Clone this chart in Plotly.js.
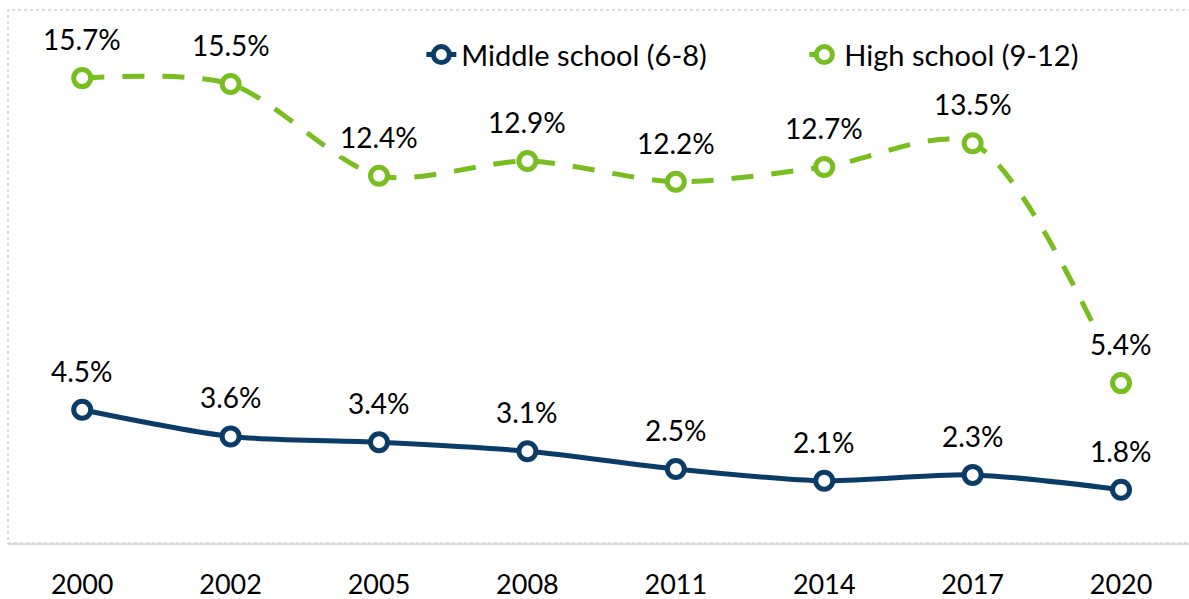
<!DOCTYPE html>
<html>
<head>
<meta charset="utf-8">
<script src="https://cdn.plot.ly/plotly-3.0.1.min.js"></script>
<style>
  body { margin: 0; background: #fff; }
  #chart { width: 1189px; height: 599px; }
</style>
</head>
<body>
<div id="chart"></div>
<script>
// survey years and rates (%)
var years = ["2000", "2002", "2005", "2008", "2011", "2014", "2017", "2020"];
var middleSchool = [4.5, 3.6, 3.4, 3.1, 2.5, 2.1, 2.3, 1.8];
var highSchool = [15.7, 15.5, 12.4, 12.9, 12.2, 12.7, 13.5, 5.4];

var navy = "#0b3c68";
var green = "#78be21";
var fontFam = "Lato, 'Open Sans', sans-serif";

var trace1 = {
  x: years,
  y: middleSchool,
  name: "Middle school (6-8)",
  type: "scatter",
  mode: "lines+markers",
  line: {color: navy, width: 5, shape: "spline", smoothing: 0.8},
  marker: {symbol: "circle", size: 17, color: "#fff", line: {color: navy, width: 5}}
};

var trace2 = {
  x: years,
  y: highSchool,
  name: "High school (9-12)",
  type: "scatter",
  mode: "lines+markers",
  line: {color: green, width: 5, shape: "spline", smoothing: 0.8, dash: "22px,18px"},
  marker: {symbol: "circle", size: 17, color: "#fff", line: {color: green, width: 5}}
};

// value labels above each point (x as category index), white box like the original
var labels = [];
function addLabels(vals) {
  vals.forEach(function (v, i) {
    labels.push({
      x: i, y: v, xref: "x", yref: "y",
      text: v.toFixed(1) + "%",
      showarrow: false, yshift: 39,
      bgcolor: "#fff", borderpad: 1,
      font: {family: fontFam, size: 28, color: "#000"}
    });
  });
}
addLabels(middleSchool);
addLabels(highSchool);

var layout = {
  width: 1189,
  height: 599,
  margin: {l: 8, r: 0, t: 10, b: 56},
  paper_bgcolor: "#fff",
  plot_bgcolor: "#fff",
  font: {family: fontFam, size: 27, color: "#000"},
  showlegend: true,
  legend: {
    orientation: "h",
    x: 0.35, xanchor: "left",
    y: 0.916, yanchor: "middle",
    entrywidth: 338,
    font: {family: fontFam, size: 29, color: "#000"},
    bgcolor: "rgba(0,0,0,0)"
  },
  xaxis: {
    type: "category",
    range: [-0.5, 7.458],
    showgrid: false,
    zeroline: false,
    showline: true,
    linecolor: "#d9d9d9",
    linewidth: 2,
    ticks: "",
    ticklabelstandoff: 17,
    tickfont: {family: fontFam, size: 27, color: "#000"}
  },
  yaxis: {
    range: [0, 18],
    showgrid: false,
    zeroline: false,
    showline: false,
    showticklabels: false,
    ticks: ""
  },
  shapes: [{
    type: "rect", xref: "paper", yref: "paper",
    x0: 0, x1: 1.05, y0: 0, y1: 1,
    line: {color: "#d0d0d0", width: 1.5, dash: "dot"},
    layer: "below"
  }],
  annotations: labels
};

Plotly.newPlot("chart", [trace1, trace2], layout, {displayModeBar: false});
</script>
</body>
</html>
